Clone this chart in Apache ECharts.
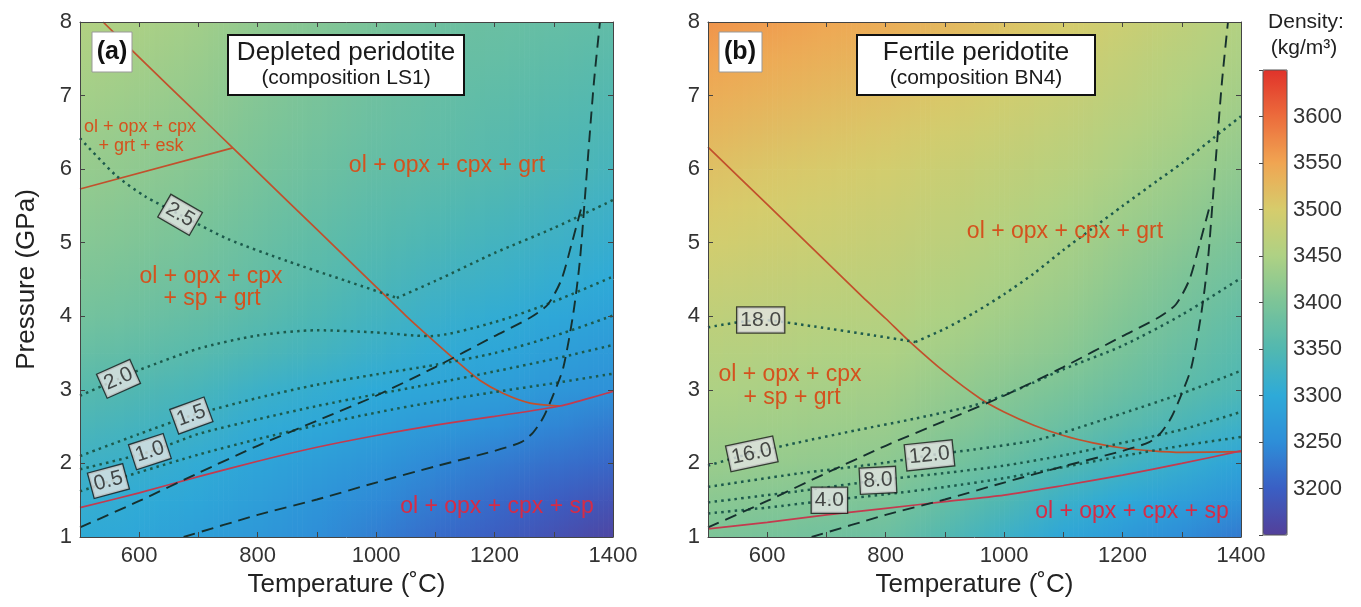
<!DOCTYPE html>
<html lang="en">
<head>
<meta charset="UTF-8" />
<title>Peridotite density, P-T sections</title>
<script src="https://cdn.jsdelivr.net/npm/echarts@6/dist/echarts.min.js"></script>
<style>
  html, body { margin: 0; background: #fff; }
  #app { width: 1361px; height: 607px; }
</style>
</head>
<body>
<div id="app"></div>
<script>
const FONT = '"Liberation Sans", Arial, sans-serif';

// grid nodes of the density field (°C, GPa)
const tempCols = [500, 600, 700, 800, 900, 1000, 1100, 1200, 1300, 1400];
const pressRows = [8, 7.5, 7, 6.5, 6, 5.5, 5, 4.5, 4, 3.5, 3, 2.5, 2, 1.5, 1];

// density (kg/m3), rows follow pressRows, columns follow tempCols
const densityA = [
  [3455, 3447, 3438, 3420, 3408, 3396, 3385, 3379, 3373, 3368],
  [3448, 3440, 3431, 3414, 3402, 3390, 3380, 3373, 3366, 3360],
  [3441, 3433, 3424, 3408, 3396, 3384, 3374, 3366, 3358, 3351],
  [3434, 3426, 3417, 3402, 3390, 3378, 3369, 3359, 3351, 3343],
  [3427, 3419, 3410, 3395, 3383, 3372, 3364, 3353, 3344, 3335],
  [3419, 3411, 3402, 3387, 3375, 3363, 3353, 3342, 3333, 3323],
  [3411, 3403, 3394, 3379, 3366, 3353, 3342, 3331, 3322, 3312],
  [3402, 3393, 3384, 3370, 3357, 3343, 3330, 3320, 3310, 3300],
  [3390, 3382, 3372, 3358, 3345, 3331, 3318, 3306, 3295, 3284],
  [3375, 3367, 3357, 3343, 3331, 3318, 3305, 3292, 3280, 3270],
  [3356, 3348, 3338, 3320, 3310, 3300, 3290, 3278, 3266, 3255],
  [3340, 3332, 3322, 3305, 3294, 3282, 3270, 3256, 3242, 3230],
  [3325, 3316, 3305, 3290, 3277, 3262, 3245, 3230, 3218, 3208],
  [3312, 3303, 3292, 3279, 3263, 3247, 3230, 3212, 3196, 3182],
  [3302, 3293, 3281, 3268, 3251, 3233, 3214, 3196, 3178, 3160]
];
const densityB = [
  [3565, 3557, 3548, 3540, 3527, 3513, 3500, 3485, 3470, 3455],
  [3552, 3544, 3536, 3528, 3515, 3502, 3490, 3475, 3461, 3447],
  [3540, 3532, 3525, 3517, 3505, 3493, 3481, 3467, 3453, 3439],
  [3528, 3520, 3513, 3506, 3494, 3482, 3471, 3457, 3444, 3430],
  [3515, 3508, 3502, 3495, 3484, 3473, 3462, 3448, 3434, 3420],
  [3505, 3499, 3492, 3486, 3475, 3464, 3453, 3438, 3424, 3409],
  [3495, 3489, 3484, 3478, 3467, 3455, 3444, 3428, 3413, 3397],
  [3482, 3478, 3473, 3469, 3458, 3447, 3436, 3418, 3401, 3384],
  [3470, 3467, 3463, 3460, 3449, 3437, 3426, 3407, 3389, 3370],
  [3460, 3457, 3453, 3450, 3438, 3426, 3414, 3395, 3376, 3357],
  [3450, 3447, 3443, 3440, 3426, 3412, 3398, 3380, 3362, 3345],
  [3440, 3437, 3433, 3430, 3413, 3396, 3378, 3359, 3340, 3320],
  [3430, 3426, 3422, 3418, 3396, 3374, 3352, 3331, 3311, 3290],
  [3415, 3410, 3405, 3400, 3373, 3347, 3320, 3299, 3279, 3258],
  [3400, 3393, 3387, 3380, 3351, 3321, 3292, 3271, 3249, 3228]
];

// phase boundaries [T, P]
const garnetInA = [[539, 8], [600, 7.52], [700, 6.74], [758, 6.29], [800, 5.96], [900, 5.18],
  [1000, 4.4], [1050, 4.01], [1091, 3.71], [1136, 3.39], [1175, 3.13], [1215, 2.95], [1260, 2.82], [1310, 2.78]];
const eskolaiteA = [[500, 5.73], [758, 6.29]];
const spinelOutA = [[500, 1.4], [600, 1.6], [700, 1.82], [800, 2.03], [900, 2.22], [1000, 2.38],
  [1100, 2.52], [1200, 2.64], [1310, 2.78], [1400, 2.98]];
const garnetInB = [[500, 6.3], [600, 5.52], [700, 4.74], [760, 4.27], [800, 3.97], [840, 3.66], [900, 3.24],
  [960, 2.88], [1000, 2.7], [1050, 2.52], [1100, 2.38], [1150, 2.28], [1200, 2.21], [1250, 2.17], [1300, 2.15], [1400, 2.16]];
const spinelOutB = [[500, 1.11], [600, 1.2], [700, 1.3], [800, 1.39], [900, 1.48], [1000, 1.57],
  [1100, 1.7], [1200, 1.84], [1300, 2.0], [1400, 2.17]];

// geotherms (same in both panels)
const geothermCold = [[500, 1.13], [600, 1.49], [700, 1.87], [800, 2.24], [900, 2.58], [1000, 2.92],
  [1100, 3.31], [1200, 3.73], [1260, 3.98], [1290, 4.16], [1313, 4.5], [1330, 4.98], [1349, 5.55]];
const geothermHot = [[675, 1.0], [800, 1.3], [900, 1.51], [1000, 1.74], [1100, 1.96], [1200, 2.17],
  [1245, 2.29], [1265, 2.42], [1282, 2.62], [1300, 2.95], [1316, 3.3], [1333, 4.04], [1344, 4.75],
  [1352, 5.55], [1360, 6.4], [1368, 7.2], [1378, 8.0]];

// isopleths, panel (a)
const iso05A = [[500, 1.62], [548, 1.75], [600, 1.88], [700, 2.12], [800, 2.33], [900, 2.52], [1000, 2.69],
  [1100, 2.84], [1200, 2.97], [1300, 3.09], [1400, 3.22]];
const iso10A = [[500, 1.92], [618, 2.16], [700, 2.4], [800, 2.6], [900, 2.78], [1000, 2.94], [1100, 3.09],
  [1200, 3.25], [1300, 3.42], [1400, 3.61]];
const iso15A = [[500, 2.1], [600, 2.4], [688, 2.65], [800, 2.89], [900, 3.07], [1000, 3.21], [1100, 3.34],
  [1200, 3.5], [1300, 3.73], [1400, 4.01]];
const iso20A = [[500, 2.92], [565, 3.15], [600, 3.27], [700, 3.56], [800, 3.74], [900, 3.81], [1000, 3.78],
  [1090, 3.73], [1200, 3.92], [1300, 4.2], [1400, 4.54]];
const iso25ALow = [[500, 6.42], [560, 5.92], [610, 5.63], [669, 5.38], [750, 5.05], [850, 4.75], [950, 4.48], [1035, 4.25]];
const iso25AHigh = [[1035, 4.25], [1100, 4.48], [1200, 4.86], [1300, 5.2], [1400, 5.58]];

// isopleths, panel (b)
const iso40B = [[500, 1.32], [600, 1.4], [705, 1.5], [800, 1.58], [900, 1.68], [1000, 1.8], [1100, 1.95],
  [1200, 2.1], [1300, 2.24], [1400, 2.36]];
const iso80B = [[500, 1.47], [650, 1.62], [787, 1.77], [900, 1.87], [1000, 1.97], [1100, 2.11], [1200, 2.28],
  [1300, 2.46], [1400, 2.7]];
const iso120B = [[500, 1.68], [650, 1.86], [800, 2.01], [874, 2.11], [950, 2.19], [1050, 2.31], [1100, 2.42],
  [1200, 2.68], [1300, 2.95], [1400, 3.26]];
const iso160B = [[500, 1.97], [574, 2.14], [650, 2.28], [750, 2.45], [850, 2.61], [950, 2.79], [1000, 2.93],
  [1050, 3.1], [1100, 3.28], [1200, 3.6], [1300, 4.02], [1400, 4.52]];
const iso180BLow = [[500, 3.85], [589, 3.95], [680, 3.86], [780, 3.74], [850, 3.65]];
const iso180BHigh = [[850, 3.65], [900, 3.83], [950, 4.05], [1000, 4.3], [1050, 4.58], [1100, 4.9], [1150, 5.2],
  [1200, 5.5], [1260, 5.85], [1300, 6.08], [1356, 6.44], [1400, 6.72]];

const isoTagsA = ['0.5', '1.0', '1.5', '2.0', '2.5'];
const isoTagsB = ['4.0', '8.0', '12.0', '16.0', '18.0'];
const densityTicks = [3200, 3250, 3300, 3350, 3400, 3450, 3500, 3550, 3600];

const chart = echarts.init(document.getElementById('app'));

function nodes(rows) {
  const out = [];
  rows.forEach((row, i) => row.forEach((d, j) => out.push([tempCols[j], pressRows[i], d])));
  return out;
}

// each node paints the cell to its lower right, shaded between the four corner colours
function renderCell(params, api) {
  const nc = tempCols.length, nr = pressRows.length;
  const idx = params.dataIndexInside;
  const i = Math.floor(idx / nc), j = idx % nc;
  if (i >= nr - 1 || j >= nc - 1) return null;
  const tl = api.coord([api.value(0, idx), api.value(1, idx)]);
  const br = api.coord([api.value(0, idx + nc + 1), api.value(1, idx + nc + 1)]);
  const c = [api.visual('color', idx), api.visual('color', idx + 1),
    api.visual('color', idx + nc), api.visual('color', idx + nc + 1)];
  const strips = 12;
  const w = (br[0] - tl[0]) / strips;
  const children = [];
  for (let k = 0; k < strips; k++) {
    const f = (k + 0.5) / strips;
    const top = echarts.color.lerp(f, [c[0], c[1]]);
    const bot = echarts.color.lerp(f, [c[2], c[3]]);
    children.push({
      type: 'rect',
      shape: { x: tl[0] + k * w, y: tl[1], width: w + 0.7, height: br[1] - tl[1] + 0.7 },
      style: { fill: new echarts.graphic.LinearGradient(0, 0, 0, 1, [
        { offset: 0, color: top }, { offset: 1, color: bot }]) }
    });
  }
  return { type: 'group', children: children };
}

function heat(panel, rows) {
  return {
    type: 'custom', xAxisIndex: panel * 2, yAxisIndex: panel * 2, z: 1,
    renderItem: renderCell, encode: { x: 0, y: 1 }, data: nodes(rows), silent: true, clip: true
  };
}

const STYLES = {
  garnet: { color: '#c2502c', width: 1.7, type: 'solid' },
  spinel: { color: '#c43a4e', width: 1.7, type: 'solid' },
  dotted: { color: '#1c5a4c', width: 2.5, type: [2.5, 4.2] },
  dashed: { color: '#16302e', width: 1.9, type: [12, 7] }
};

function line(panel, data, style, smooth) {
  return {
    type: 'line', xAxisIndex: panel * 2, yAxisIndex: panel * 2, z: 3,
    data: data, showSymbol: false, symbol: 'none', silent: true,
    smooth: smooth ? 0.25 : false,
    lineStyle: STYLES[style], clip: true
  };
}

function tags(panel, texts, spots) {
  return {
    type: 'scatter', xAxisIndex: panel * 2, yAxisIndex: panel * 2, z: 6, silent: true,
    symbolSize: 1, itemStyle: { color: 'rgba(0,0,0,0)' },
    data: spots.map((s, i) => ({
      value: [s[0], s[1]],
      label: { rotate: s[2], formatter: texts[i] }
    })),
    label: {
      show: true, position: 'inside', fontSize: 21, color: '#222', fontFamily: FONT,
      backgroundColor: '#e3e3e3', borderColor: '#1a1a1a', borderWidth: 1.3, padding: [3, 3, 1, 3]
    }
  };
}

function tempAxes(grid) {
  const base = {
    type: 'value', gridIndex: grid, min: 500, max: 1400, interval: 100, z: 5,
    splitLine: { show: false },
    axisLine: { show: true, lineStyle: { color: '#444', width: 1 } },
    axisTick: { show: true, inside: true, length: 5, lineStyle: { color: '#444' } }
  };
  return [
    Object.assign({}, base, {
      position: 'bottom',
      axisLabel: { fontSize: 22, color: '#333', margin: 8, formatter: v => (v % 200 === 0 ? String(v) : '') },
      name: 'Temperature (\u02DAC)', nameLocation: 'middle', nameGap: 30,
      nameTextStyle: { fontSize: 26, color: '#222' }
    }),
    Object.assign({}, base, { position: 'top', axisLabel: { show: false } })
  ];
}

function pressAxes(grid, named) {
  const base = {
    type: 'value', gridIndex: grid, min: 1, max: 8, interval: 1, z: 5,
    splitLine: { show: false },
    axisLine: { show: true, lineStyle: { color: '#444', width: 1 } },
    axisTick: { show: true, inside: true, length: 5, lineStyle: { color: '#444' } }
  };
  const left = Object.assign({}, base, {
    position: 'left',
    axisLabel: { fontSize: 22, color: '#333', margin: 8 }
  });
  if (named) {
    Object.assign(left, {
      name: 'Pressure (GPa)', nameLocation: 'middle', nameGap: 40,
      nameTextStyle: { fontSize: 26, color: '#222' }
    });
  }
  return [left, Object.assign({}, base, { position: 'right', axisLabel: { show: false } })];
}

function txt(x, y, text, opts) {
  const o = Object.assign({ size: 23, color: '#d4521e', weight: 'normal' }, opts || {});
  return {
    type: 'text', x: x, y: y, z: 120, silent: true,
    style: {
      text: text, fill: o.color, font: o.weight + ' ' + o.size + 'px ' + FONT,
      align: 'center', verticalAlign: 'middle', textAlign: 'center', textVerticalAlign: 'middle'
    }
  };
}

function box(x, y, w, h, stroke, lw) {
  return {
    type: 'rect', z: 110, silent: true,
    shape: { x: x, y: y, width: w, height: h },
    style: { fill: '#fff', stroke: stroke, lineWidth: lw }
  };
}

const CRIMSON = '#d62c46';

const series = [
  heat(0, densityA),
  line(0, garnetInA, 'garnet', true),
  line(0, eskolaiteA, 'garnet', false),
  line(0, spinelOutA, 'spinel', true),
  line(0, iso05A, 'dotted', true),
  line(0, iso10A, 'dotted', true),
  line(0, iso15A, 'dotted', true),
  line(0, iso20A, 'dotted', true),
  line(0, iso25ALow, 'dotted', true),
  line(0, iso25AHigh, 'dotted', true),
  line(0, geothermCold, 'dashed', true),
  line(0, geothermHot, 'dashed', true),
  tags(0, isoTagsA, [[548, 1.76, 15], [618, 2.16, 18], [688, 2.65, 20], [565, 3.15, 24], [669, 5.38, -30]]),
  heat(1, densityB),
  line(1, garnetInB, 'garnet', true),
  line(1, spinelOutB, 'spinel', true),
  line(1, iso40B, 'dotted', true),
  line(1, iso80B, 'dotted', true),
  line(1, iso120B, 'dotted', true),
  line(1, iso160B, 'dotted', true),
  line(1, iso180BLow, 'dotted', true),
  line(1, iso180BHigh, 'dotted', true),
  line(1, geothermCold, 'dashed', true),
  line(1, geothermHot, 'dashed', true),
  tags(1, isoTagsB, [[705, 1.5, 0], [787, 1.77, 3], [874, 2.11, 6], [574, 2.13, 12], [589, 3.95, 0]])
];
const heatIndex = series.map((s, i) => (s.type === 'custom' ? i : -1)).filter(i => i >= 0);

const option = {
  animation: false,
  backgroundColor: '#fff',
  textStyle: { fontFamily: FONT },
  grid: [
    { left: 80, top: 22, width: 533, height: 515 },
    { left: 708, top: 22, width: 533, height: 515 },
    { left: 1263, top: 70, width: 24, height: 465 }
  ],
  xAxis: [].concat(tempAxes(0), tempAxes(1), [{ type: 'value', gridIndex: 2, min: 0, max: 1, show: false }]),
  yAxis: [].concat(pressAxes(0, true), pressAxes(1, false), [{
    type: 'value', gridIndex: 2, min: 3150, max: 3650, interval: 50, position: 'right', z: 10,
    splitLine: { show: false },
    axisLine: { show: false },
    axisTick: { show: true, inside: true, length: 4, lineStyle: { color: '#444' } },
    axisLabel: {
      fontSize: 22, color: '#333', margin: 6,
      formatter: v => (densityTicks.indexOf(v) >= 0 ? String(v) : '')
    }
  }]),
  visualMap: {
    type: 'continuous', min: 3150, max: 3650, seriesIndex: heatIndex, dimension: 2,
    calculable: false, hoverLink: false, padding: 0,
    left: 1263, top: 70, itemWidth: 24, itemHeight: 465,
    inRange: {
      color: ['#53409a', '#3a5fc4', '#2e8ed8', '#2eaad8', '#52b8b0', '#7cc498',
        '#aed184', '#d6cc6c', '#f0a552', '#ec6c3c', '#e0322a']
    }
  },
  graphic: [
    { type: 'rect', z: 130, silent: true, shape: { x: 1263, y: 70, width: 24, height: 465 },
      style: { fill: null, stroke: '#555', lineWidth: 1 } },
    txt(1306, 22, 'Density:', { color: '#222', size: 21 }),
    txt(1304, 48, '(kg/m\u00B3)', { color: '#222', size: 21 }),

    box(92, 32, 40, 40, '#999', 1),
    txt(112, 52, '(a)', { color: '#111', size: 25, weight: 'bold' }),
    box(228, 35, 236, 60, '#111', 2),
    txt(346, 53, 'Depleted peridotite', { color: '#1a1a1a', size: 26 }),
    txt(346, 78, '(composition LS1)', { color: '#1a1a1a', size: 21 }),
    txt(140, 127, 'ol + opx + cpx', { size: 18 }),
    txt(141, 146, '+ grt + esk', { size: 18 }),
    txt(447, 166, 'ol + opx + cpx + grt'),
    txt(211, 277, 'ol + opx + cpx'),
    txt(212, 299, '+ sp + grt'),
    txt(497, 507, 'ol + opx + cpx + sp', { color: CRIMSON }),

    box(719, 32, 43, 40, '#999', 1),
    txt(740, 52, '(b)', { color: '#111', size: 25, weight: 'bold' }),
    box(857, 35, 238, 60, '#111', 2),
    txt(976, 53, 'Fertile peridotite', { color: '#1a1a1a', size: 26 }),
    txt(976, 78, '(composition BN4)', { color: '#1a1a1a', size: 21 }),
    txt(1065, 232, 'ol + opx + cpx + grt'),
    txt(790, 375, 'ol + opx + cpx'),
    txt(792, 398, '+ sp + grt'),
    txt(1132, 512, 'ol + opx + cpx + sp', { color: CRIMSON })
  ],
  series: series
};

chart.setOption(option);
</script>
</body>
</html>
